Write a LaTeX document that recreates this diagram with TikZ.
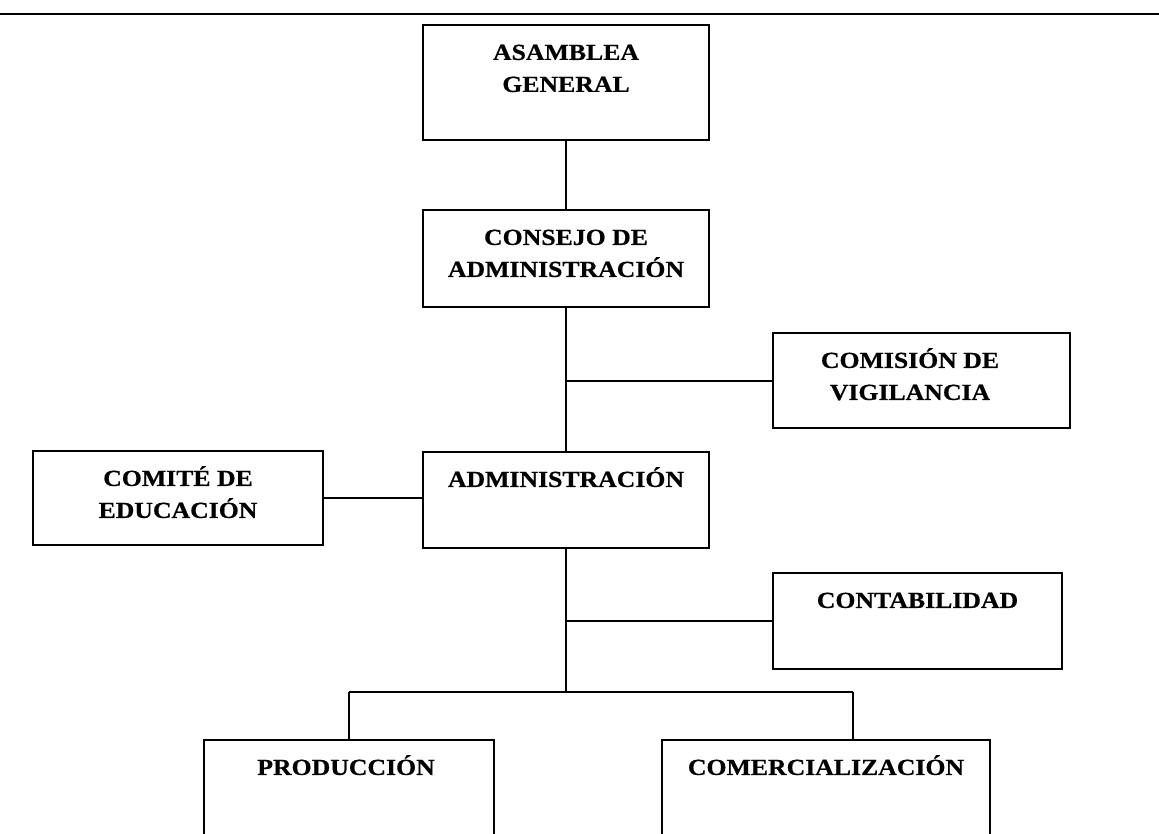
\documentclass[tikz,border=0pt]{standalone}
\usepackage{fontspec}
\setmainfont{Liberation Serif}[FakeStretch=1.12, BoldFeatures={FakeBold=0.6}]
\begin{document}
\begin{tikzpicture}[x=1pt,y=-1pt,
  box/.style={draw, line width=2.4pt, inner sep=0pt, minimum width=#1},
  lbl/.style={font=\bfseries\fontsize{23}{32}\selectfont, align=center, inner sep=0pt, anchor=north},
  conn/.style={line width=2pt}]
\clip (0,0) rectangle (1159,834);
\useasboundingbox (0,0) rectangle (1159,834);
% top rule
\coordinate (rl) at (0,14);
\coordinate (rr) at (1159,14);
\draw[line width=2.4pt] (rl) -- (rr);
% boxes
\node[box=286pt, minimum height=115pt] (asam) at (566,82.5) {};
\node[box=286pt, minimum height=97pt] (cons) at (566,258.5) {};
\node[box=297pt, minimum height=95pt] (comi) at (921.5,380.5) {};
\node[box=290pt, minimum height=94pt] (edu) at (178,498) {};
\node[box=286pt, minimum height=96pt] (adm) at (566,500) {};
\node[box=289pt, minimum height=96pt] (cont) at (917.5,621) {};
\node[box=290pt, minimum height=110pt] (prod) at (349,795) {};
\node[box=328pt, minimum height=110pt] (come) at (826,795) {};
% labels
\node[lbl] (tasam) at (566,40) {\vphantom{É}ASAMBLEA\\GENERAL};
\node[lbl] (tcons) at (566,225) {\vphantom{É}CONSEJO DE\\ADMINISTRACIÓN};
\node[lbl] (tcomi) at (910,348) {COMISIÓN DE\\VIGILANCIA};
\node[lbl] (tedu) at (178,466) {COMITÉ DE\\EDUCACIÓN};
\node[lbl] (tadm) at (566,467) {ADMINISTRACIÓN};
\node[lbl] (tcont) at (917.5,588) {\vphantom{É}CONTABILIDAD};
\node[lbl] (tprod) at (346,755) {PRODUCCIÓN};
\node[lbl] (tcome) at (826,755) {COMERCIALIZACIÓN};
% connectors
\draw[conn] (asam.south) -- (cons.north);
\draw[conn] (cons.south) -- (adm.north);
\coordinate (j1) at (cons.south |- comi.west);
\draw[conn] (j1) -- (comi.west);
\draw[conn] (edu.east) -- (edu.east -| adm.west);
\coordinate (j2) at (adm.south |- cont.west);
\coordinate (j3) at (566,692);
\draw[conn] (adm.south) -- (j3);
\draw[conn] (j2) -- (cont.west);
\coordinate (bl) at (prod.north |- j3);
\coordinate (br) at (853,692);
\draw[conn] (bl) -- (br);
\draw[conn] (bl) -- (prod.north);
\draw[conn] (br) -- (br |- come.north);
\end{tikzpicture}
\end{document}
